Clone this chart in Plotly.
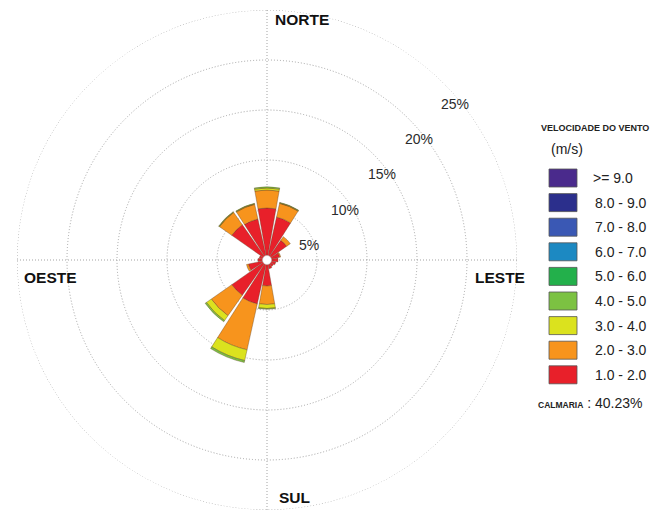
import math
import plotly.graph_objects as go

# Wind directions (16 sectors, clockwise from north)
directions = ["N", "NNE", "NE", "ENE", "E", "ESE", "SE", "SSE",
              "S", "SSW", "SW", "WSW", "W", "WNW", "NW", "NNW"]
direction_deg = [0, 22.5, 45, 67.5, 90, 112.5, 135, 157.5,
                 180, 202.5, 225, 247.5, 270, 292.5, 315, 337.5]

# Frequency (%) per speed class and direction
freq_1_2 = [5.2, 4.4, 2.4, 1.3, 1.1, 0.9, 0.8, 0.9,
            2.6, 4.5, 4.3, 1.9, 0.9, 0.8, 4.3, 4.2]
freq_2_3 = [1.8, 1.4, 0.45, 0.1, 0.0, 0.0, 0.0, 0.0,
            1.85, 4.7, 2.5, 0.2, 0.0, 0.0, 1.5, 1.5]
freq_3_4 = [0.2, 0.05, 0.0, 0.0, 0.0, 0.0, 0.0, 0.0,
            0.4, 1.1, 0.6, 0.0, 0.0, 0.0, 0.05, 0.05]
freq_4_5 = [0.12, 0.05, 0.0, 0.0, 0.0, 0.0, 0.0, 0.0,
            0.08, 0.2, 0.15, 0.0, 0.0, 0.0, 0.05, 0.05]

# Speed classes (m/s), from highest to lowest, with their colours
class_labels = [">= 9.0", "8.0 - 9.0", "7.0 - 8.0", "6.0 - 7.0", "5.0 - 6.0",
                "4.0 - 5.0", "3.0 - 4.0", "2.0 - 3.0", "1.0 - 2.0"]
class_colors = ["#4a2a8c", "#2b2f8c", "#3a58b4", "#1c89c2", "#23b04b",
                "#7cc242", "#dbe21e", "#f7941d", "#e8202a"]

radial_ticks = [5, 10, 15, 20, 25]
compass = [("NORTE", 0), ("LESTE", 90), ("SUL", 180), ("OESTE", 270)]
calm_text = "40.23%"

W, H = 652, 510
CX, CY, R = 267, 260, 250
R_MAX = 25.0
FONT = "Liberation Sans, Arial, sans-serif"
GRID = "#a3a3a3"


def fx(x):
    return x / W


def fy(y):
    return 1 - y / H


fig = go.Figure()

# outermost dotted ring (plotly skips the grid circle at the range edge)
ring_theta = list(range(0, 361, 2))
fig.add_trace(go.Scatterpolar(
    r=[radial_ticks[-1]] * len(ring_theta), theta=ring_theta, mode="lines",
    line=dict(color=GRID, width=1, dash="1px,2px"),
    showlegend=False, hoverinfo="skip",
))

series = [freq_1_2, freq_2_3, freq_3_4, freq_4_5]
series_colors = [class_colors[8], class_colors[7], class_colors[6], class_colors[5]]
for vals, col in zip(series, series_colors):
    fig.add_trace(go.Barpolar(
        r=vals, theta=direction_deg, width=[20] * len(vals),
        marker=dict(color=col, line=dict(color="rgba(90,60,30,0.6)", width=0.6)),
        showlegend=False, hoverinfo="skip",
    ))

# calm circle in the middle
fig.add_trace(go.Scatterpolar(
    r=[0], theta=[0], mode="markers",
    marker=dict(size=9, color="white", line=dict(color="#bbbbbb", width=0.6)),
    showlegend=False, hoverinfo="skip",
))

fig.update_layout(
    width=W, height=H,
    margin=dict(l=0, r=0, t=0, b=0),
    paper_bgcolor="white", plot_bgcolor="white",
    polar=dict(
        domain=dict(x=[fx(CX - R), fx(CX + R)], y=[fy(CY + R), fy(CY - R)]),
        bgcolor="white",
        barmode="stack",
        radialaxis=dict(range=[0, R_MAX], tickvals=radial_ticks, showticklabels=False,
                        ticks="", showline=False, gridcolor=GRID, gridwidth=1,
                        griddash="1px,2px"),
        angularaxis=dict(direction="clockwise", rotation=90, tickvals=[0, 90, 180, 270],
                         showticklabels=False, ticks="", showline=False,
                         gridcolor=GRID, gridwidth=1, griddash="1px,2px"),
    ),
    font=dict(family=FONT),
)

annotations = []

# percentage labels along the NE diagonal
for v in radial_ticks:
    rp = v / R_MAX * R
    annotations.append(dict(
        x=fx(CX + 5 + 0.733 * rp), y=fy(CY + 20 - 0.705 * rp),
        text=f"{v}%", showarrow=False, xanchor="center", yanchor="middle",
        font=dict(size=14, color="#2b2b2b", family=FONT)))

# compass point labels
compass_pos = {"NORTE": (273, 20), "LESTE": (473, 277), "SUL": (277, 497), "OESTE": (22, 277)}
for name, _ in compass:
    x, y = compass_pos[name]
    annotations.append(dict(
        x=fx(x), y=fy(y), text=f"<b>{name}</b>", showarrow=False,
        xanchor="left", yanchor="middle",
        font=dict(size=15.5, color="#111111", family=FONT)))

# legend for the speed classes
annotations.append(dict(
    x=fx(594.5), y=fy(128), text="<b>VELOCIDADE DO VENTO</b>", showarrow=False,
    xanchor="center", yanchor="middle", font=dict(size=9, color="#222222", family=FONT)))
annotations.append(dict(
    x=fx(549), y=fy(149), text="(m/s)", showarrow=False,
    xanchor="left", yanchor="middle", font=dict(size=14, color="#222222", family=FONT)))

shapes = []
box_top0, step, box_h = 169, 24.6, 18
for i, (lab, col) in enumerate(zip(class_labels, class_colors)):
    top = box_top0 + i * step
    shapes.append(dict(type="rect", xref="paper", yref="paper",
                       x0=fx(549), x1=fx(577), y0=fy(top + box_h), y1=fy(top),
                       fillcolor=col, line=dict(color="#555555", width=0.8)))
    yc = top + box_h / 2
    if i == 0:
        annotations.append(dict(x=fx(591), y=fy(yc), text="&gt;= 9.0", showarrow=False,
                                xanchor="left", yanchor="middle",
                                font=dict(size=14, color="#222222", family=FONT)))
    else:
        annotations.append(dict(x=fx(649), y=fy(yc), text=lab, showarrow=False,
                                xanchor="right", yanchor="middle",
                                font=dict(size=14, color="#222222", family=FONT)))

annotations.append(dict(
    x=fx(536), y=fy(403),
    text=f"<b><span style='font-size:8.5px'>CALMARIA</span></b> : {calm_text}",
    showarrow=False, xanchor="left", yanchor="middle",
    font=dict(size=14, color="#222222", family=FONT)))

fig.update_layout(annotations=annotations, shapes=shapes)

fig.write_html("out.html")
